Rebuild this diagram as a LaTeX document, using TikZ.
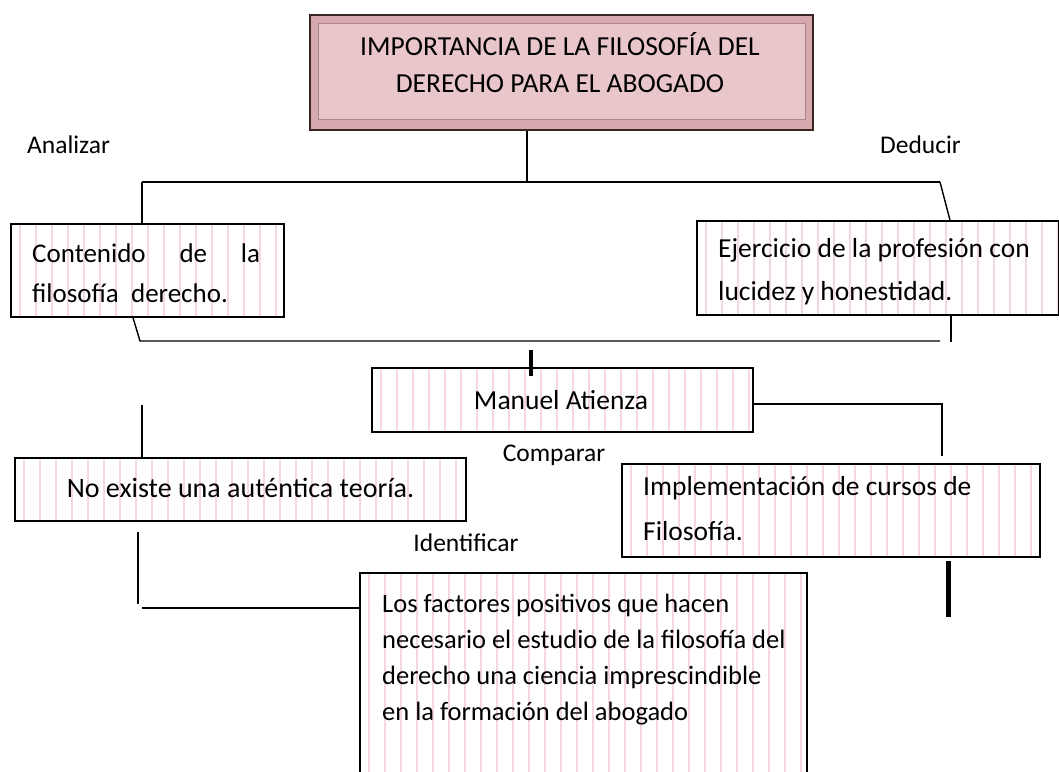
\documentclass[tikz,border=0pt]{standalone}
\usepackage{fontspec}
\setmainfont{Carlito}
\definecolor{stripec}{HTML}{F5D8DC}
\definecolor{titlefill}{HTML}{E9C6CA}
\definecolor{titleedge}{HTML}{D6A9AE}
\definecolor{titledark}{HTML}{3A2424}
\tikzset{
  stripebox/.style={draw=black, line width=1.4pt, fill=white, inner sep=0pt,
    path picture={\foreach \i in {0,...,30}{
      \draw[stripec, line width=1.6pt] ([xshift=\i*16pt+9pt]path picture bounding box.south west) -- ([xshift=\i*16pt+9pt]path picture bounding box.north west);}}},
  conn/.style={draw=black, line width=1.4pt},
  thickbar/.style={draw=black, line width=5pt},
  lbl/.style={font=\fontsize{25.5}{28}\selectfont, inner sep=0pt},
  boxtext/.style={font=\fontsize{27}{40}\selectfont, inner sep=0pt, align=left},
}
\begin{document}
\begin{tikzpicture}[x=1pt,y=-1pt]
\useasboundingbox (0,0) rectangle (1059,771);
\fill[white] (0,0) rectangle (1059,771);

% title box with bevel
\node[draw=titledark, line width=2pt, fill=titleedge, minimum width=503pt, minimum height=115pt, inner sep=0pt] (title) at (561.5,72.5) {};
\fill[titlefill] ([shift={(9pt,-9pt)}]title.north west) rectangle ([shift={(-9pt,12pt)}]title.south east);
\draw[titleedge!80!black, line width=0.8pt] ([shift={(9pt,-9pt)}]title.north west) rectangle ([shift={(-9pt,12pt)}]title.south east);
\node[font=\fontsize{27.5}{37}\selectfont, align=center, inner sep=0pt, anchor=base] (titletext) at (560,92) {IMPORTANCIA DE LA FILOSOFÍA DEL\\DERECHO PARA EL ABOGADO};

% labels
\node[lbl, anchor=base west] (analizar) at (27,153) {Analizar};
\node[lbl, anchor=base west] (deducir) at (880,153) {Deducir};
\node[lbl, anchor=base] (comparar) at (554,461) {Comparar};
\node[lbl, anchor=base] (identificar) at (466,551) {Identificar};

% boxes
\node[stripebox, minimum width=273pt, minimum height=93pt] (contenido) at (147.5,270.5) {};
\node[boxtext, anchor=base west] (contenidotext) at (32,302) {\makebox[228pt][s]{Contenido de la}\\filosofía\ \ derecho.};

\node[stripebox, minimum width=362pt, minimum height=94pt] (ejercicio) at (878,268) {};
\node[boxtext, anchor=base west, font=\fontsize{27.5}{43}\selectfont] (ejerciciotext) at (718,300) {Ejercicio de la profesión con\\lucidez y honestidad.};

\node[stripebox, minimum width=381pt, minimum height=64pt] (atienza) at (562.5,400) {};
\node[boxtext, anchor=base, font=\fontsize{27.5}{30}\selectfont] (atienzatext) at (561,409) {Manuel Atienza};

\node[stripebox, minimum width=451pt, minimum height=63pt] (noexiste) at (240.5,489.5) {};
\node[boxtext, anchor=base, font=\fontsize{28}{30}\selectfont] (noexistetext) at (240.5,497) {No existe una auténtica teoría.};

\node[stripebox, minimum width=418pt, minimum height=93pt] (impl) at (831,510.5) {};
\node[boxtext, anchor=base west, font=\fontsize{27.5}{45}\selectfont] (impltext) at (643,540) {Implementación de cursos de\\Filosofía.};

\node[stripebox, minimum width=447pt, minimum height=210pt] (big) at (583.5,678) {};
\node[boxtext, anchor=base west, font=\fontsize{26.5}{35.7}\selectfont] (bigtext) at (382,720) {Los factores positivos que hacen\\necesario el estudio de la filosofía del\\derecho una ciencia imprescindible\\en la formación del abogado};

% connectors
\coordinate (hl) at (142,182);
\coordinate (hr) at (940,182);
\coordinate (tc) at (527,0);
\draw[conn] (title.south -| tc) -- (hl -| tc);
\draw[conn] (hl) -- (hr);
\draw[conn] (hl) -- (contenido.north -| hl);
\draw[conn] (hr) -- ([xshift=10pt]ejercicio.north -| hr);

\coordinate (cb) at (133,317);
\coordinate (ml) at (140,341);
\coordinate (mr) at (940,341);
\draw[conn] (contenido.south -| cb) -- (ml) -- (mr);
\coordinate (er) at (951,342);
\draw[conn] (ejercicio.south -| er) -- (er);

\coordinate (atop) at (531,350);
\draw[line width=3.5pt] (atop) -- ([yshift=-9pt]atienza.north -| atop);

\coordinate (ar) at (942,404);
\draw[conn] (atienza.east |- ar) -- (ar) -- ([yshift=7pt]impl.north -| ar);

\coordinate (nl) at (142,405);
\draw[conn] (nl) -- (noexiste.north -| nl);

\coordinate (bl1) at (138,532);
\coordinate (bl2) at (138,604);
\coordinate (bl3) at (142,608);
\draw[conn] (bl1) -- (bl2);
\draw[conn] (bl3) -- (big.west |- bl3);

\coordinate (tb) at (948,0);
\draw[thickbar] ([yshift=-3pt]impl.south -| tb) -- ++(0,56);
\end{tikzpicture}
\end{document}
